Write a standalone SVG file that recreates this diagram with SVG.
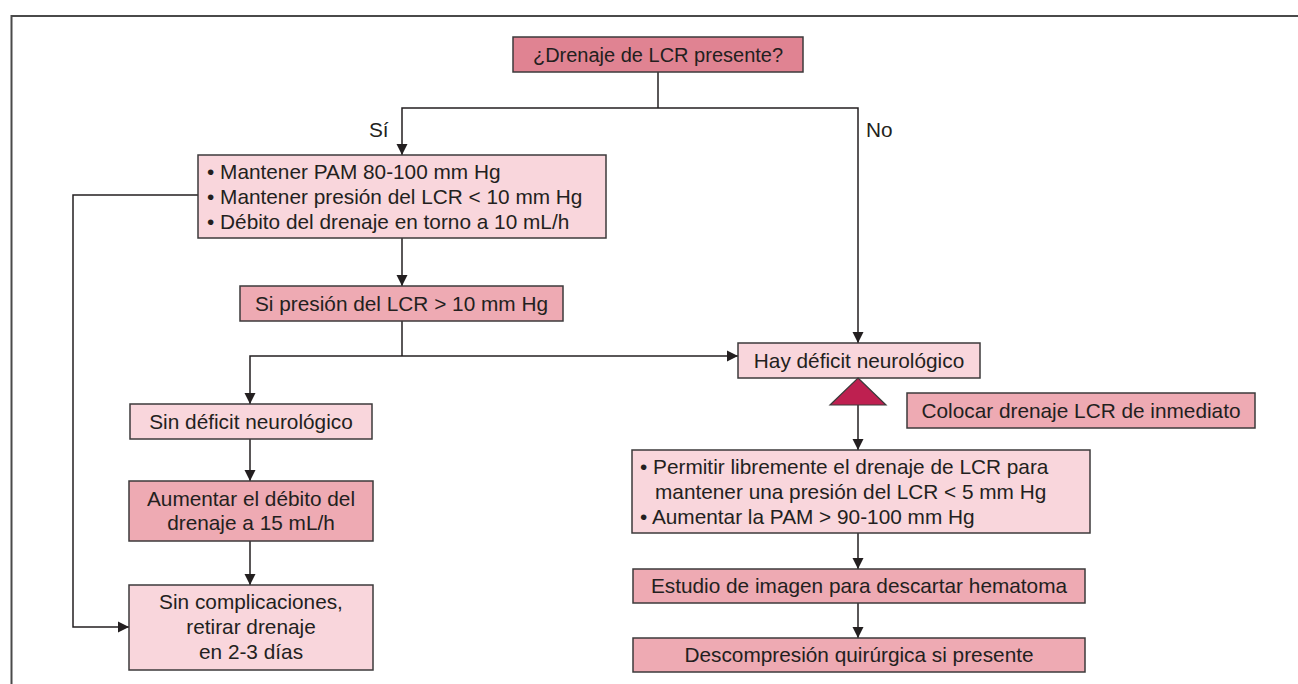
<svg xmlns="http://www.w3.org/2000/svg" width="1298" height="684" viewBox="0 0 1298 684">
<defs>
<marker id="ah" markerUnits="userSpaceOnUse" markerWidth="12" markerHeight="12" viewBox="0 0 12 12" refX="11" refY="6" orient="auto">
<path d="M0,0.5 L11,6 L0,11.5 Z" fill="#231f20"/>
</marker>
<style>
.n rect{stroke:#3c3a3b;stroke-width:1.5}
.dark rect{fill:#e08392}
.mid rect{fill:#eeaab3}
.light rect{fill:#f9d6dc}
text{font-family:"Liberation Sans",Arial,sans-serif;font-size:20.8px;fill:#231f20}
.c{text-anchor:middle}
.e line,.e path{stroke:#231f20;stroke-width:1.5;fill:none}
</style>
</defs>
<rect width="1298" height="684" fill="#fff"/>
<path d="M11.5,684 V16 H1298" fill="none" stroke="#4a4a4a" stroke-width="2"/>

<g id="edges" class="e">
<path d="M658,72 V108"/>
<path d="M658,108 H402 V155" marker-end="url(#ah)"/>
<path d="M658,108 H858 V343" marker-end="url(#ah)"/>
<path d="M198,195 H73 V627 H129" marker-end="url(#ah)"/>
<path d="M402,238 V286" marker-end="url(#ah)"/>
<path d="M402,321 V356"/>
<path d="M402,356 H250 V404" marker-end="url(#ah)"/>
<path d="M402,356 H738" marker-end="url(#ah)"/>
<path d="M858,405 V450" marker-end="url(#ah)"/>
<path d="M858,533 V569" marker-end="url(#ah)"/>
<path d="M858,603 V638" marker-end="url(#ah)"/>
<path d="M250,439 V481" marker-end="url(#ah)"/>
<path d="M250,541 V585" marker-end="url(#ah)"/>
<text x="369" y="137">Sí</text>
<text x="866" y="137">No</text>
</g>

<g id="n_top" class="n dark">
<rect x="513" y="37" width="290" height="35"/>
<text class="c" x="658" y="62" style="font-size:20px">¿Drenaje de LCR presente?</text>
</g>
<g id="n_si" class="n light">
<rect x="198" y="155" width="408" height="83"/>
<text x="207" y="179">• Mantener PAM 80-100 mm Hg</text>
<text x="207" y="204">• Mantener presión del LCR &lt; 10 mm Hg</text>
<text x="207" y="229">• Débito del drenaje en torno a 10 mL/h</text>
</g>
<g id="n_sipres" class="n mid">
<rect x="240" y="286" width="323" height="35"/>
<text class="c" x="401.5" y="311">Si presión del LCR &gt; 10 mm Hg</text>
</g>
<g id="n_hay" class="n light">
<rect x="738" y="343" width="242" height="35"/>
<text class="c" x="859" y="368">Hay déficit neurológico</text>
</g>
<g id="n_tri">
<polygon points="858,378 886,405 830,405" fill="#be2050" stroke="#3c3a3b" stroke-width="1.2"/>
</g>
<g id="n_colocar" class="n mid">
<rect x="907" y="393" width="348" height="35"/>
<text class="c" x="1081" y="418">Colocar drenaje LCR de inmediato</text>
</g>
<g id="n_permitir" class="n light">
<rect x="632" y="450" width="458" height="83"/>
<text x="640" y="474">• Permitir libremente el drenaje de LCR para</text>
<text x="655" y="499">mantener una presión del LCR &lt; 5 mm Hg</text>
<text x="640" y="524">• Aumentar la PAM &gt; 90-100 mm Hg</text>
</g>
<g id="n_estudio" class="n mid">
<rect x="633" y="569" width="452" height="34"/>
<text class="c" x="859" y="593">Estudio de imagen para descartar hematoma</text>
</g>
<g id="n_descomp" class="n mid">
<rect x="633" y="638" width="452" height="34"/>
<text class="c" x="859" y="662">Descompresión quirúrgica si presente</text>
</g>
<g id="n_sindef" class="n light">
<rect x="130" y="404" width="242" height="35"/>
<text class="c" x="251" y="429">Sin déficit neurológico</text>
</g>
<g id="n_aumentar" class="n mid">
<rect x="129" y="481" width="244" height="60"/>
<text class="c" x="251" y="506">Aumentar el débito del</text>
<text class="c" x="251" y="530">drenaje a 15 mL/h</text>
</g>
<g id="n_sincomp" class="n light">
<rect x="129" y="585" width="244" height="85"/>
<text class="c" x="251" y="609">Sin complicaciones,</text>
<text class="c" x="251" y="634">retirar drenaje</text>
<text class="c" x="251" y="659">en 2-3 días</text>
</g>
</svg>
